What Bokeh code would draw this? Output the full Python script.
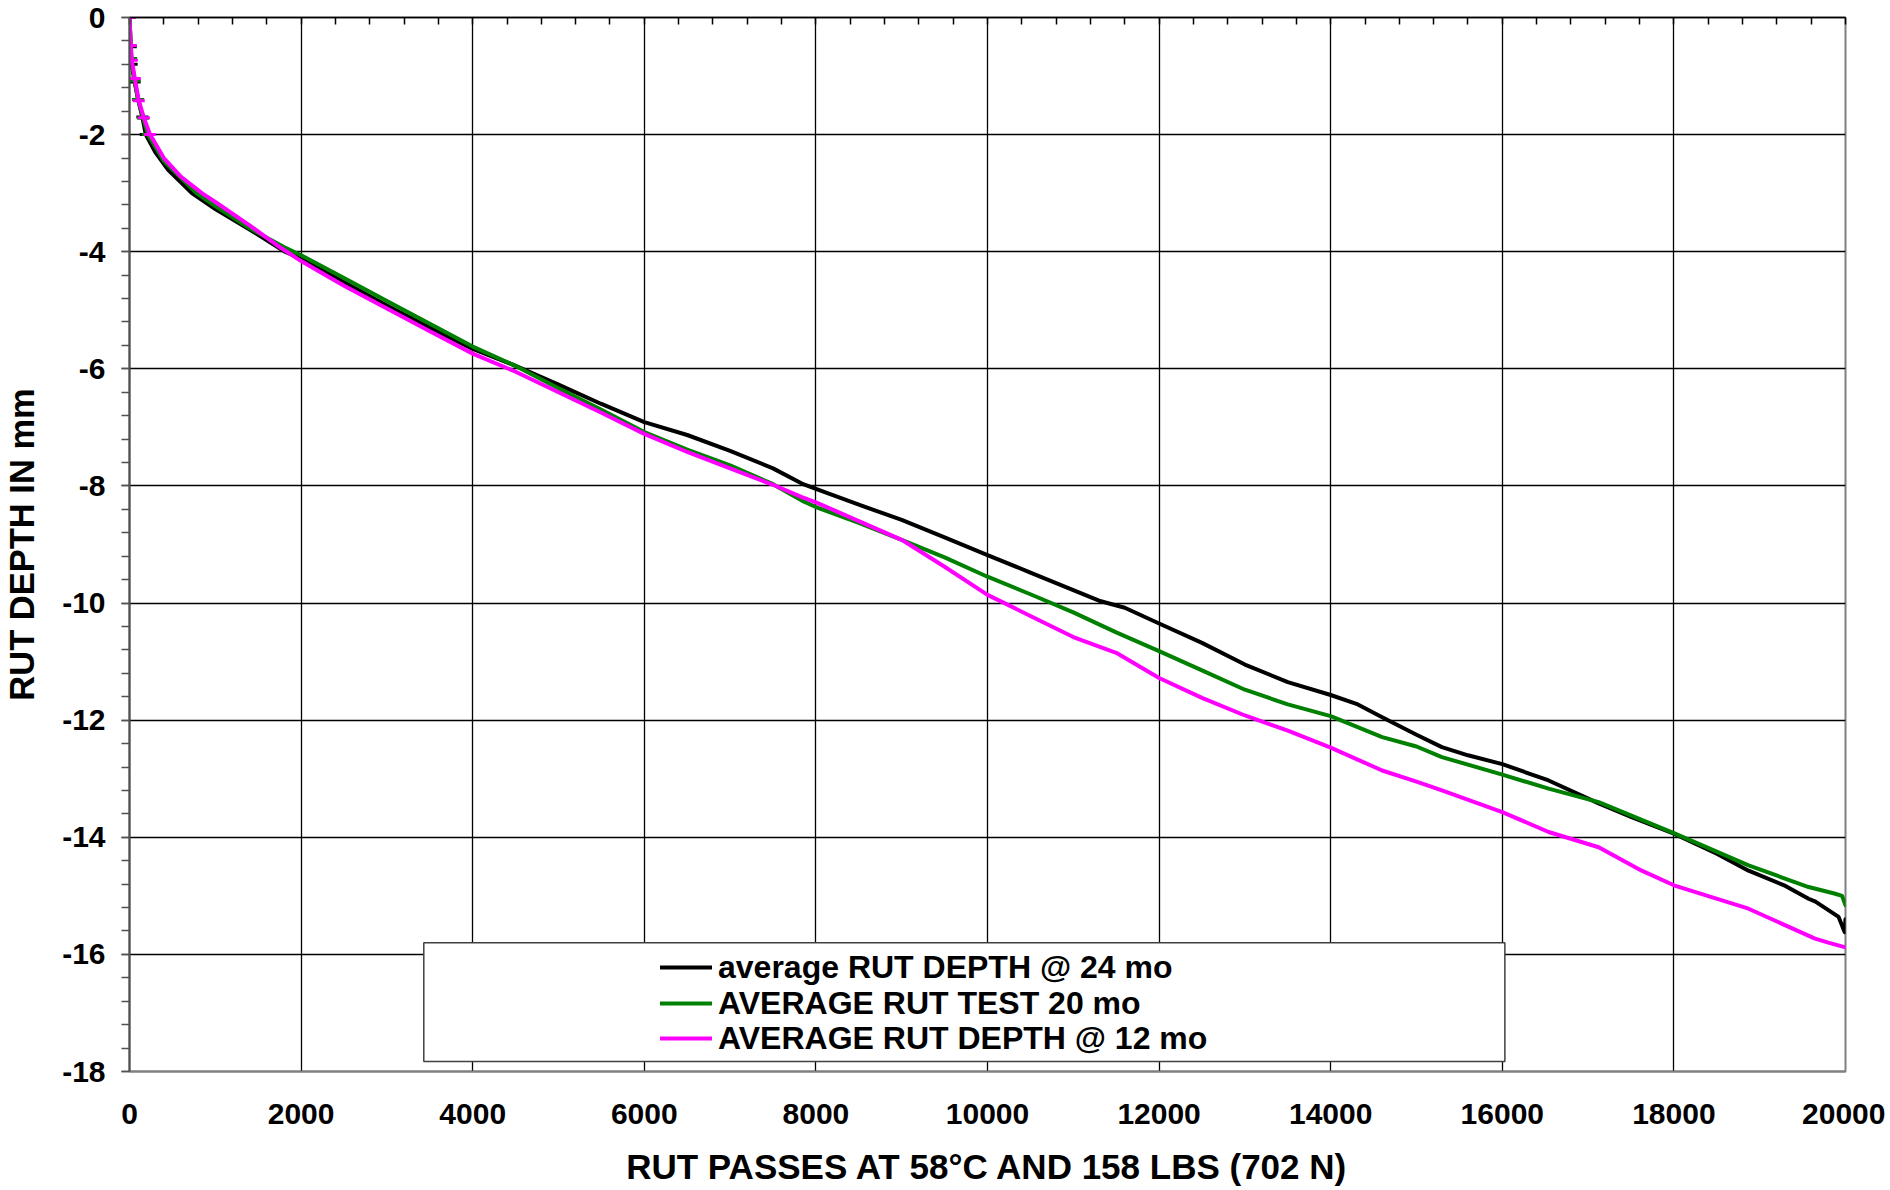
from bokeh.plotting import figure
from bokeh.models import (Range1d, FixedTicker, LinearAxis, Legend, LegendItem,
                          BoxAnnotation)
from bokeh.embed import file_html
from bokeh.resources import INLINE

# ---------------- data ----------------
passes_24 = [0, 15, 25, 60, 100, 150, 190, 300, 450, 727, 1000, 1400, 1813, 2000,
             2500, 3000, 3500, 4000, 4500, 5000, 5500, 6000, 6500, 7000, 7500, 7836,
             8000, 8500, 9000, 9500, 10000, 10500, 11000, 11300, 11600, 12000, 12500,
             13000, 13500, 14000, 14300, 14600, 15000, 15296, 15600, 16000, 16540,
             17123, 17500, 18000, 18500, 18870, 19300, 19570, 19650, 19920, 19990, 20000]
depth_24 = [0, -0.5, -0.8, -1.1, -1.4, -1.7, -2.0, -2.3, -2.6, -3.0, -3.27, -3.62, -4.0, -4.12,
            -4.52, -4.92, -5.3, -5.66, -5.95, -6.27, -6.6, -6.91, -7.13, -7.4, -7.7, -7.96,
            -8.05, -8.32, -8.58, -8.88, -9.18, -9.48, -9.78, -9.96, -10.08, -10.35, -10.68,
            -11.05, -11.35, -11.57, -11.72, -11.95, -12.25, -12.46, -12.6, -12.75, -13.03,
            -13.42, -13.65, -13.94, -14.28, -14.57, -14.83, -15.05, -15.1, -15.36, -15.62, -15.4]

passes_20 = [0, 20, 60, 100, 160, 215, 400, 780, 1000, 1400, 1800, 2000, 2500, 3000, 3500,
             4000, 4500, 5000, 5500, 6000, 6500, 7000, 7500, 7836, 8000, 8500, 9000, 9500,
             10000, 10500, 11000, 11500, 12000, 12500, 13000, 13500, 14000, 14600, 15000,
             15296, 16000, 16540, 17123, 18000, 18870, 19570, 19870, 19960, 20000]
depth_20 = [0, -0.7, -1.08, -1.4, -1.72, -2.0, -2.45, -3.0, -3.22, -3.6, -3.92, -4.06, -4.45,
            -4.84, -5.23, -5.62, -5.95, -6.33, -6.7, -7.08, -7.38, -7.65, -7.97, -8.25, -8.36,
            -8.63, -8.92, -9.22, -9.55, -9.85, -10.16, -10.5, -10.82, -11.15, -11.48, -11.73,
            -11.93, -12.29, -12.45, -12.63, -12.93, -13.17, -13.4, -13.93, -14.48, -14.85,
            -14.96, -15.0, -15.16]

passes_12 = [0, 15, 27, 62, 108, 167, 240, 400, 600, 843, 1000, 1400, 1750, 2000, 2500, 3000,
             3500, 4000, 4500, 5000, 5500, 6000, 6500, 7000, 7500, 7836, 8000, 8500, 9000,
             9500, 10000, 10500, 11000, 11500, 12000, 12500, 13000, 13500, 14000, 14600,
             15000, 15296, 16000, 16540, 17123, 17625, 18000, 18870, 19645, 19800, 20000]
depth_12 = [0, -0.48, -0.73, -1.04, -1.42, -1.71, -2.0, -2.4, -2.72, -3.0, -3.15, -3.55, -3.92,
            -4.16, -4.58, -4.97, -5.36, -5.74, -6.05, -6.4, -6.75, -7.11, -7.42, -7.7, -7.98,
            -8.19, -8.28, -8.6, -8.92, -9.38, -9.86, -10.22, -10.58, -10.85, -11.28, -11.62,
            -11.92, -12.18, -12.47, -12.86, -13.05, -13.2, -13.57, -13.91, -14.17, -14.57,
            -14.82, -15.22, -15.73, -15.8, -15.88]

labels = ["average RUT DEPTH @ 24 mo", "AVERAGE RUT TEST 20 mo", "AVERAGE RUT DEPTH @ 12 mo"]
colors = ["#000000", "#008000", "#FF00FF"]

x_ticks = list(range(0, 20001, 2000))
x_minor = list(range(0, 20001, 400))
y_ticks = list(range(-18, 1, 2))
y_minor = [round(-18 + 0.4 * i, 1) for i in range(46)]

x_title = "RUT PASSES AT 58°C AND 158 LBS (702 N)"
y_title = "RUT DEPTH IN mm"

FONT = "Liberation Sans"

# ---------------- figure ----------------
p = figure(frame_width=1716, frame_height=1054,
           x_range=Range1d(0, 20000), y_range=Range1d(-18, 0),
           output_backend="svg", toolbar_location=None,
           min_border_left=128, min_border_right=40, min_border_top=17, min_border_bottom=118,
           background_fill_color="white", border_fill_color="white")

p.outline_line_color = "#808080"
p.outline_line_width = 2

# bottom axis: labels only
xa = p.xaxis[0]
xa.ticker = FixedTicker(ticks=x_ticks)
xa.major_label_overrides = {t: str(t) for t in x_ticks}
xa.major_tick_in = 0
xa.major_tick_out = 0
xa.minor_tick_in = 0
xa.minor_tick_out = 0
xa.axis_line_color = "#808080"
xa.axis_line_width = 2
xa.major_label_standoff = 32
xa.major_label_text_font = FONT
xa.major_label_text_font_size = "30px"
xa.major_label_text_font_style = "bold"
xa.major_label_text_color = "black"
xa.axis_label = x_title
xa.axis_label_text_font = FONT
xa.axis_label_text_font_size = "35px"
xa.axis_label_text_font_style = "bold"
xa.axis_label_text_color = "black"
xa.axis_label_standoff = 20

# left axis
ya = p.yaxis[0]
ya.ticker = FixedTicker(ticks=y_ticks, minor_ticks=y_minor)
ya.major_label_overrides = {t: str(t) for t in y_ticks}
ya.major_tick_in = 0
ya.major_tick_out = 8
ya.minor_tick_in = 0
ya.minor_tick_out = 8
ya.axis_line_color = "#505050"
ya.axis_line_width = 2
ya.major_tick_line_color = "#505050"
ya.minor_tick_line_color = "#505050"
ya.major_tick_line_width = 1.5
ya.minor_tick_line_width = 1.5
ya.major_label_standoff = 16
ya.major_label_text_font = FONT
ya.major_label_text_font_size = "30px"
ya.major_label_text_font_style = "bold"
ya.major_label_text_color = "black"
ya.axis_label = y_title
ya.axis_label_text_font = FONT
ya.axis_label_text_font_size = "34.5px"
ya.axis_label_text_font_style = "bold"
ya.axis_label_text_color = "black"
ya.axis_label_standoff = 18

# top axis (y = 0 crossing): only minor ticks pointing inward, no labels
top = LinearAxis(ticker=FixedTicker(ticks=[], minor_ticks=x_minor),
                 major_tick_in=0, major_tick_out=0, major_label_standoff=0,
                 minor_tick_in=7, minor_tick_out=0,
                 axis_line_color="black", axis_line_width=1.5,
                 minor_tick_line_color="black", minor_tick_line_width=1.5)
p.add_layout(top, "above")

# grid
p.xgrid[0].ticker = FixedTicker(ticks=x_ticks)
p.ygrid[0].ticker = FixedTicker(ticks=y_ticks)
for g in (p.xgrid[0], p.ygrid[0]):
    g.grid_line_color = "black"
    g.grid_line_width = 1.3
    g.grid_line_alpha = 1.0

# series
renderers = []
for xs, ys, c in ((passes_24, depth_24, colors[0]),
                  (passes_20, depth_20, colors[1]),
                  (passes_12, depth_12, colors[2])):
    r = p.line(xs, ys, line_color=c, line_width=4, line_join="round", line_cap="round")
    early_x = [x for x in xs if x <= 250]
    early_y = [y for x, y in zip(xs, ys) if x <= 250]
    p.scatter(early_x, early_y, marker="dash", size=12, line_color=c, line_width=3)
    renderers.append(r)

# legend box
box = BoxAnnotation(left=3430, right=16030, top=-15.80, bottom=-17.83,
                    fill_color="white", fill_alpha=1.0,
                    line_color="#404040", line_width=1.5, line_alpha=1.0)
p.add_layout(box)

# one legend per row so that row spacing matches the reference exactly
row_offsets = [84, 48, 13]
for lab, r, yoff in zip(labels, renderers, row_offsets):
    lg = Legend(items=[LegendItem(label=lab, renderers=[r])],
                location=(531, yoff), orientation="vertical",
                padding=0, margin=0, spacing=0,
                glyph_width=52, glyph_height=40, label_height=40, label_standoff=6,
                label_text_font=FONT, label_text_font_size="32px",
                label_text_font_style="bold", label_text_color="black",
                border_line_alpha=0, background_fill_alpha=0)
    p.add_layout(lg)

open("out.html", "w").write(file_html(p, INLINE))
